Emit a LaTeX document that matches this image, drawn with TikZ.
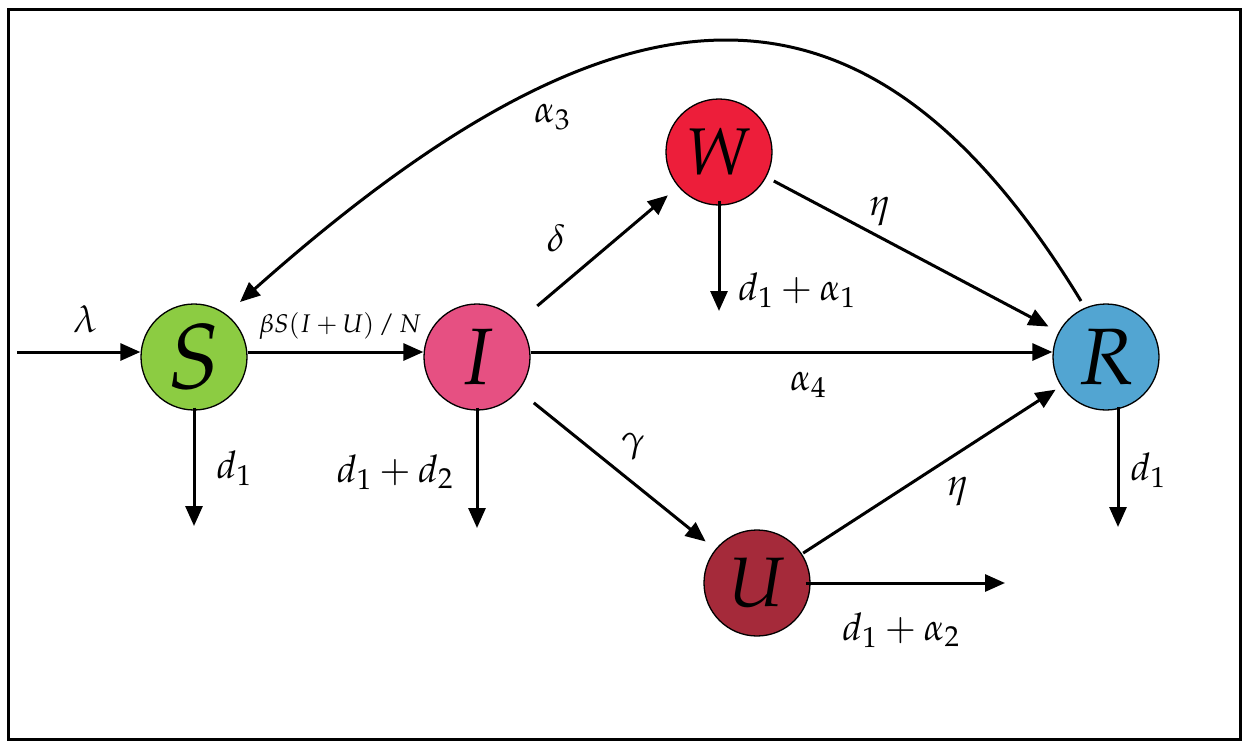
\documentclass[tikz,border=0pt]{standalone}
\usepackage{mathpazo}
\usetikzlibrary{arrows.meta,calc}
\definecolor{Sgreen}{RGB}{140,204,66}
\definecolor{Ipink}{RGB}{230,80,130}
\definecolor{Wred}{RGB}{237,30,58}
\definecolor{Rblue}{RGB}{82,165,210}
\definecolor{Udark}{RGB}{165,42,58}
\begin{document}
\begin{tikzpicture}[x=1pt,y=-1pt,
  comp/.style={circle, draw=black, line width=1.3pt, minimum size=106pt, inner sep=0pt},
  flow/.style={-{Triangle[length=20pt,width=17pt]}, line width=3pt},
  lab/.style={font=\fontsize{38}{40}\selectfont, inner sep=0pt}]
\useasboundingbox (0,0) rectangle (1250,742);
\fill[white] (0,0) rectangle (1250,742);
\draw[line width=3pt] (8,9) rectangle (1240,739);

\node[comp, fill=Sgreen, font=\fontsize{92}{92}\selectfont] (S) at (194,357) {$S$};
\node[comp, fill=Ipink, font=\fontsize{80}{80}\selectfont] (I) at (477,357) {$I$};
\node[comp, fill=Wred, font=\fontsize{66}{66}\selectfont] (W) at (719,152) {$W$};
\node[comp, fill=Rblue, font=\fontsize{80}{80}\selectfont] (R) at (1106,357) {$R$};
\node[comp, fill=Udark, font=\fontsize{70}{70}\selectfont] (U) at (757,583) {$U$};

\coordinate (inS) at (17,352);
\draw[flow] (inS) -- ([yshift=5pt]S.west);
\draw[flow] ([yshift=5pt]S.east) -- ([yshift=5pt]I.west);
\draw[flow] ([yshift=5pt]I.east) -- ([yshift=5pt]R.west);

\draw[flow] ($(I)!79pt!(W)$) -- ($(W)!67pt!(I)$);
\draw[flow] ($(I)!73pt!(U)$) -- ($(U)!66pt!(I)$);
\draw[flow] ($(W)!62pt!(R)$) -- ($(R)!65pt!(W)$);
\draw[flow] ($(U)!55pt!(R)$) -- ($(R)!60pt!(U)$);

\coordinate (Sd) at (194,526);
\coordinate (Id) at (477,528);
\coordinate (Wd) at (719,311);
\coordinate (Rs) at ($(R)+(12,50)$);
\coordinate (Rd) at (1118,527);
\coordinate (Ue) at (1005,583);
\draw[flow] ([yshift=3pt]S.south) -- (Sd);
\draw[flow] ([yshift=3pt]I.south) -- (Id);
\draw[flow] ([yshift=5pt]W.south) -- (Wd);
\draw[flow] (Rs) -- (Rd);
\draw[flow] ([xshift=-5pt]U.east) -- (Ue);

\coordinate (a0) at ($(R)+(-25,-56)$);
\coordinate (a1) at ($(S)+(46,-55)$);
\draw[flow] (a0) .. controls (870,-45) and (630,-45) .. (a1);

\node[lab] (lam) at (85,319) {$\lambda$};
\node[font=\fontsize{25.5}{27}\selectfont, inner sep=0pt] (bl) at (340,326) {$\beta S(I+U)\,/\,N$};
\node[lab] (del) at (556,238) {$\delta$};
\node[lab] (a3) at (552,117) {$\alpha_3$};
\node[lab] (wl) at (797,290) {$d_1+\alpha_1$};
\node[lab] (e1) at (880,212) {$\eta$};
\node[lab] (a4) at (808,385) {$\alpha_4$};
\node[lab] (g) at (633,447) {$\gamma$};
\node[lab] (il) at (395,472) {$d_1+d_2$};
\node[lab] (sl) at (234,468) {$d_1$};
\node[lab] (e2) at (958,492) {$\eta$};
\node[lab] (rl) at (1148,470) {$d_1$};
\node[lab] (ul) at (901,630) {$d_1+\alpha_2$};
\end{tikzpicture}
\end{document}
